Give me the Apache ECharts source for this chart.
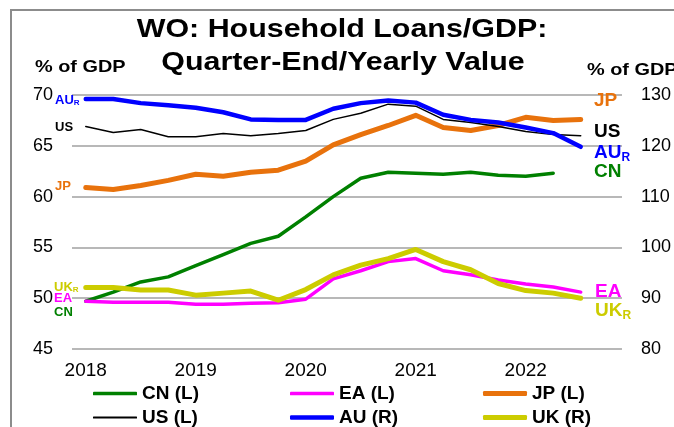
<!DOCTYPE html>
<html>
<head>
<meta charset="utf-8">
<script src="https://cdn.jsdelivr.net/npm/echarts@6/dist/echarts.min.js"></script>
<style>
html,body{margin:0;padding:0;background:#fff}
#chart{width:674px;height:427px}
</style>
</head>
<body>
<div id="chart"></div>
<script>
// quarters 2018Q1 .. 2022Q4 (last one empty)
var quarters = ['2018Q1','2018Q2','2018Q3','2018Q4','2019Q1','2019Q2','2019Q3','2019Q4',
    '2020Q1','2020Q2','2020Q3','2020Q4','2021Q1','2021Q2','2021Q3','2021Q4',
    '2022Q1','2022Q2','2022Q3','2022Q4'];
// left axis (% of GDP)
var cnData = [49.7,50.6,51.6,52.1,53.2,54.3,55.4,56.1,58.0,60.0,61.8,62.4,62.3,62.2,62.4,62.1,62.0,62.3];
var eaData = [49.7,49.6,49.6,49.6,49.4,49.4,49.5,49.55,49.9,51.9,52.7,53.6,53.9,52.7,52.3,51.8,51.4,51.1,50.6];
var jpData = [60.9,60.7,61.1,61.6,62.2,62.0,62.4,62.6,63.5,65.1,66.1,67.0,68.0,66.8,66.5,67.0,67.8,67.5,67.6];
var usData = [66.9,66.3,66.6,65.9,65.9,66.2,66.0,66.2,66.5,67.6,68.2,69.1,68.9,67.6,67.3,66.9,66.4,66.1,66.0];
// right axis (% of GDP)
var auData = [129.2,129.2,128.4,128.0,127.5,126.6,125.2,125.1,125.1,127.3,128.4,128.9,128.5,126.1,125.1,124.6,123.6,122.5,119.8];
var ukData = [92.1,92.1,91.6,91.6,90.6,91.0,91.4,89.6,91.7,94.6,96.5,97.8,99.6,97.2,95.6,92.9,91.5,91.0,90.0];

var leftTicks = [45, 70, 5];
var rightTicks = [80, 130, 10];

var FONT = '"Liberation Sans", Arial, sans-serif';
var STRETCH = 1.17; // the source text is a bit wide

var seriesList = [
    {name: 'CN (L)', data: cnData, axis: 0, color: '#008000', width: 3.5},
    {name: 'EA (L)', data: eaData, axis: 0, color: '#ff00ff', width: 3.5},
    {name: 'JP (L)', data: jpData, axis: 0, color: '#e8720c', width: 5},
    {name: 'US (L)', data: usData, axis: 0, color: '#000000', width: 1.5},
    {name: 'AU (R)', data: auData, axis: 1, color: '#0000ff', width: 4.5},
    {name: 'UK (R)', data: ukData, axis: 1, color: '#cccc00', width: 5}
];

// legend slots
var legendPos = [[93, 384], [290, 384], [483, 384], [93, 408], [290, 408], [483, 408]];

function label(x, y, txt, sub, color, size) {
    var rich = {
        m: {font: 'bold ' + size + 'px ' + FONT, fill: color},
        s: {font: 'bold ' + Math.round(size * 0.62) + 'px ' + FONT, fill: color, padding: [Math.round(size * 0.45), 0, 0, 0]}
    };
    return {
        type: 'text', z: 100,
        style: {
            x: x, y: y,
            text: '{m|' + txt + '}' + (sub ? '{s|' + sub + '}' : ''),
            rich: rich,
            textVerticalAlign: 'middle'
        }
    };
}

function wideText(x, y, txt, size, align) {
    return {
        type: 'text', z: 100, x: x, y: y, scaleX: STRETCH,
        style: {
            x: 0, y: 0, text: txt,
            font: 'bold ' + size + 'px ' + FONT,
            fill: '#000',
            textAlign: align,
            textVerticalAlign: 'middle'
        }
    };
}

var myChart = echarts.init(document.getElementById('chart'));
var option = {
    animation: false,
    grid: {
        left: 72,
        right: 51,
        top: 95,
        bottom: 78
    },
    legend: seriesList.map(function (s, i) {
        return {
            data: [s.name],
            left: legendPos[i][0],
            top: legendPos[i][1],
            padding: 0,
            selectedMode: false,
            icon: 'roundRect',
            itemWidth: 44,
            itemHeight: Math.max(2, s.width),
            textStyle: {
                fontFamily: FONT,
                fontWeight: 'bold',
                fontSize: 19,
                color: '#000'
            }
        };
    }),
    xAxis: {
        type: 'category',
        data: quarters,
        boundaryGap: true,
        axisLine: {show: false},
        axisTick: {show: false},
        splitLine: {show: false},
        axisLabel: {
            interval: 3,
            margin: 12,
            fontFamily: FONT,
            fontSize: 19,
            color: '#000',
            formatter: function (v) { return v.slice(0, 4); }
        }
    },
    yAxis: [{
        type: 'value',
        min: leftTicks[0],
        max: leftTicks[1],
        interval: leftTicks[2],
        axisLine: {show: false},
        axisTick: {show: false},
        splitLine: {lineStyle: {color: '#a0a0a0', width: 1.5}},
        axisLabel: {margin: 19, fontFamily: FONT, fontSize: 18, color: '#000'}
    }, {
        type: 'value',
        position: 'right',
        min: rightTicks[0],
        max: rightTicks[1],
        interval: rightTicks[2],
        axisLine: {show: false},
        axisTick: {show: false},
        splitLine: {show: false},
        axisLabel: {margin: 19, fontFamily: FONT, fontSize: 18, color: '#000'}
    }],
    series: seriesList.map(function (s) {
        return {
            name: s.name,
            type: 'line',
            yAxisIndex: s.axis,
            data: s.data,
            symbol: 'none',
            showSymbol: false,
            color: s.color,
            lineStyle: {color: s.color, width: s.width, join: 'round', cap: 'round'}
        };
    }),
    graphic: [
        {
            type: 'rect', z: 0, silent: true,
            shape: {x: 11, y: 10, width: 720, height: 480},
            style: {fill: 'none', stroke: '#8c8c8c', lineWidth: 2}
        },
        // title
        wideText(342, 30, 'WO: Household Loans/GDP:', 26, 'center'),
        wideText(343, 63, 'Quarter-End/Yearly Value', 26, 'center'),
        // axis units
        wideText(35, 67, '% of GDP', 17, 'left'),
        wideText(587, 70, '% of GDP', 17, 'left'),
        // left end labels
        label(55, 100, 'AU', 'R', '#0000ff', 13),
        label(55, 127, 'US', '', '#000000', 13),
        label(55, 186, 'JP', '', '#e8720c', 13),
        label(54, 287, 'UK', 'R', '#cccc00', 13),
        label(54, 298, 'EA', '', '#ff00ff', 13),
        label(54, 312, 'CN', '', '#008000', 13),
        // right end labels
        label(594, 101, 'JP', '', '#e8720c', 19),
        label(594, 132, 'US', '', '#000000', 19),
        label(594, 153, 'AU', 'R', '#0000ff', 19),
        label(594, 172, 'CN', '', '#008000', 19),
        label(595, 292, 'EA', '', '#ff00ff', 19),
        label(595, 311, 'UK', 'R', '#cccc00', 19)
    ]
};
myChart.setOption(option);
</script>
</body>
</html>
